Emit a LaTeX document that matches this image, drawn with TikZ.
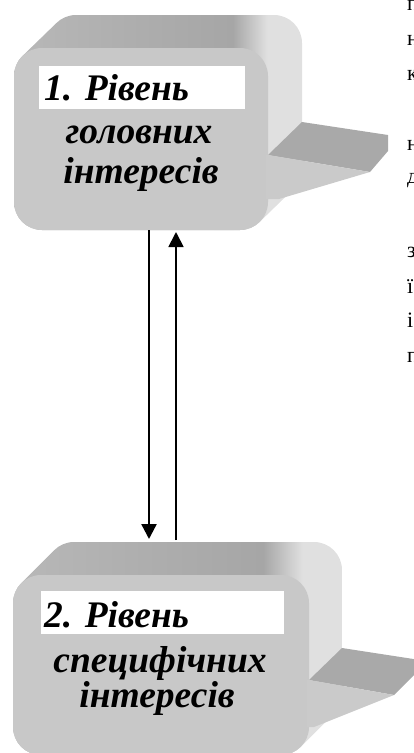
\documentclass[tikz,border=0pt]{standalone}
\usepackage{fontspec}
\setmainfont{Liberation Serif}
\usetikzlibrary{arrows.meta,calc}
\definecolor{frontc}{RGB}{200,200,200}
\definecolor{topA}{RGB}{184,184,184}
\definecolor{topB}{RGB}{174,174,174}
\definecolor{topC}{RGB}{166,166,166}
\definecolor{sideC}{RGB}{224,224,224}
\definecolor{tailtop}{RGB}{169,169,169}
\definecolor{tailfront}{RGB}{202,202,202}
\pgfdeclarehorizontalshading{extshade}{100bp}{color(0bp)=(topA); color(25bp)=(topA); color(45bp)=(topB); color(63bp)=(topC); color(69bp)=(sideC); color(100bp)=(sideC)}
\tikzset{
  face/.style={fill=frontc, draw=none, rounded corners=28pt, inner sep=0pt, outer sep=0pt},
  lbl/.style={font=\fontsize{37.5}{44}\selectfont\bfseries\itshape, inner sep=0pt},
  edge/.style={font=\fontsize{22}{26}\selectfont, inner sep=0pt, anchor=base west},
  arr/.style={-{Triangle[width=15pt,length=15pt]}},
}
\begin{document}
\begin{tikzpicture}[x=1pt,y=-1pt]
\useasboundingbox (0,0) rectangle (414,753);
\begin{scope}
\clip (0,0) rectangle (414,753);
% ---------- box 1 ----------
\shade[shading=extshade, rounded corners=28pt]
  \foreach \k in {0,...,33} {(14+\k*34/33,48-\k) rectangle ++(254,182)};
\fill[tailtop] (268,155) -- (302,122) -- (388,135) -- (388,151) -- (370,172) -- cycle;
\node[face, minimum width=254pt, minimum height=182pt] (b1) at (141,139) {};
\fill[tailfront] (268,155) -- (370,172) -- (279,199) -- (266,199) -- (266,155) -- cycle;
\fill[white] (39,66) rectangle (245,109);
\node[lbl, anchor=base west] (t1a) at (44,100) {1. Рівень};
\node[lbl, anchor=base] (t1b) at (139,143) {головних};
\node[lbl, anchor=base] (t1c) at (141,183) {інтересів};
% ---------- box 2 ----------
\shade[shading=extshade, rounded corners=28pt]
  \foreach \k in {0,...,33} {(13+\k,575-\k) rectangle ++(296,180)};
\fill[tailtop] (309,680) -- (342,648) -- (420,660) -- (420,669) -- (394,695) -- cycle;
\node[face, minimum width=296pt, minimum height=180pt] (b2) at (161,665) {};
\fill[tailfront] (309,680) -- (394,695) -- (314,727) -- (307,727) -- (307,680) -- cycle;
\fill[white] (41,591) rectangle (284,634);
\node[lbl, anchor=base west] (t2a) at (44,627) {2. Рівень};
\node[lbl, anchor=base] (t2b) at (160,672) {специфічних};
\node[lbl, anchor=base] (t2c) at (157,707) {інтересів};
% ---------- arrows ----------
\coordinate (d1) at ($(b1.south west)+(135,0)$);
\coordinate (d2) at ($(b2.north west)+(136,-36)$);
\coordinate (u1) at ($(b2.north west)+(163,-35)$);
\coordinate (u2) at ($(b1.south west)+(162,2)$);
\draw[arr, line width=2.4pt] (d1) -- (d2);
\draw[arr, line width=1.8pt] (u1) -- (u2);
% ---------- text cut off at the right edge, as in the reference ----------
\node[edge] (e1) at (407,10) {п};
\node[edge] (e2) at (407,45) {н};
\node[edge] (e3) at (407,80) {к};
\node[edge] (e4) at (407,150) {н};
\node[edge] (e5) at (407,183) {д};
\node[edge] (e6) at (407,257) {з};
\node[edge] (e7) at (407,293) {ї};
\node[edge] (e8) at (407,327) {і};
\node[edge] (e9) at (407,362) {п};
\end{scope}
\end{tikzpicture}
\end{document}
